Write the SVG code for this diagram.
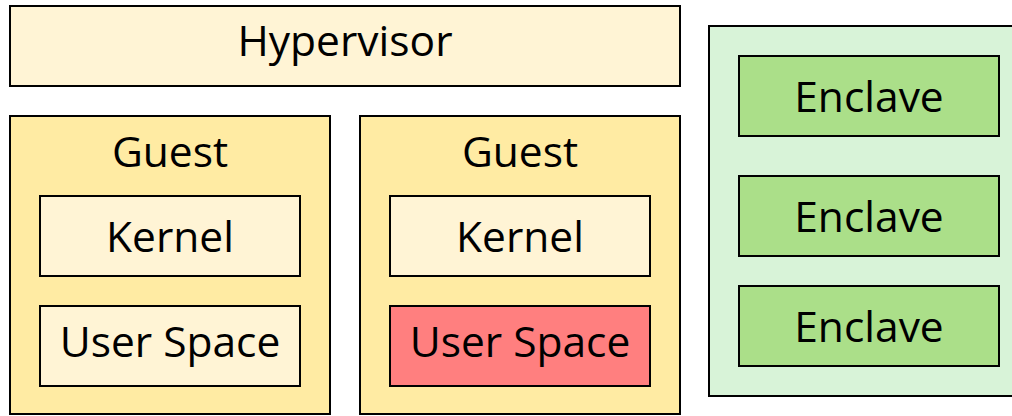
<svg xmlns="http://www.w3.org/2000/svg" width="1012" height="416" viewBox="0 0 1012 416">
  <style>
    .box { stroke: #000; stroke-width: 2; }
    text { font-family: "Open Sans", "Noto Sans", sans-serif; font-size: 42.5px; fill: #000; text-anchor: middle; }
    .light { fill: #fff4d5; }
    .guest { fill: #ffeba3; }
    .red { fill: #ff7f7f; }
    .zone { fill: #d8f3d8; }
    .enclave { fill: #abdf89; }
  </style>
  <rect width="1012" height="416" fill="#fff"/>

  <g id="hypervisor">
    <rect class="box light" x="10" y="6" width="670" height="80"/>
    <text x="345" y="56">Hypervisor</text>
  </g>

  <g id="guest1">
    <rect class="box guest" x="10" y="116" width="320" height="298"/>
    <text x="170" y="167">Guest</text>
  </g>
  <g id="kernel1">
    <rect class="box light" x="40" y="196" width="260" height="80"/>
    <text x="170" y="252">Kernel</text>
  </g>
  <g id="userspace1">
    <rect class="box light" x="40" y="306" width="260" height="80"/>
    <text x="170" y="357">User Space</text>
  </g>

  <g id="guest2">
    <rect class="box guest" x="360" y="116" width="320" height="298"/>
    <text x="520" y="167">Guest</text>
  </g>
  <g id="kernel2">
    <rect class="box light" x="390" y="196" width="260" height="80"/>
    <text x="520" y="252">Kernel</text>
  </g>
  <g id="userspace2">
    <rect class="box red" x="390" y="306" width="260" height="80"/>
    <text x="520" y="357">User Space</text>
  </g>

  <g id="enclave-zone">
    <rect class="box zone" x="709" y="26" width="320" height="370"/>
  </g>
  <g id="enclave1">
    <rect class="box enclave" x="739" y="56" width="260" height="80"/>
    <text x="869" y="112">Enclave</text>
  </g>
  <g id="enclave2">
    <rect class="box enclave" x="739" y="176" width="260" height="80"/>
    <text x="869" y="232">Enclave</text>
  </g>
  <g id="enclave3">
    <rect class="box enclave" x="739" y="286" width="260" height="80"/>
    <text x="869" y="342">Enclave</text>
  </g>

  <g id="connectors"></g>
</svg>
